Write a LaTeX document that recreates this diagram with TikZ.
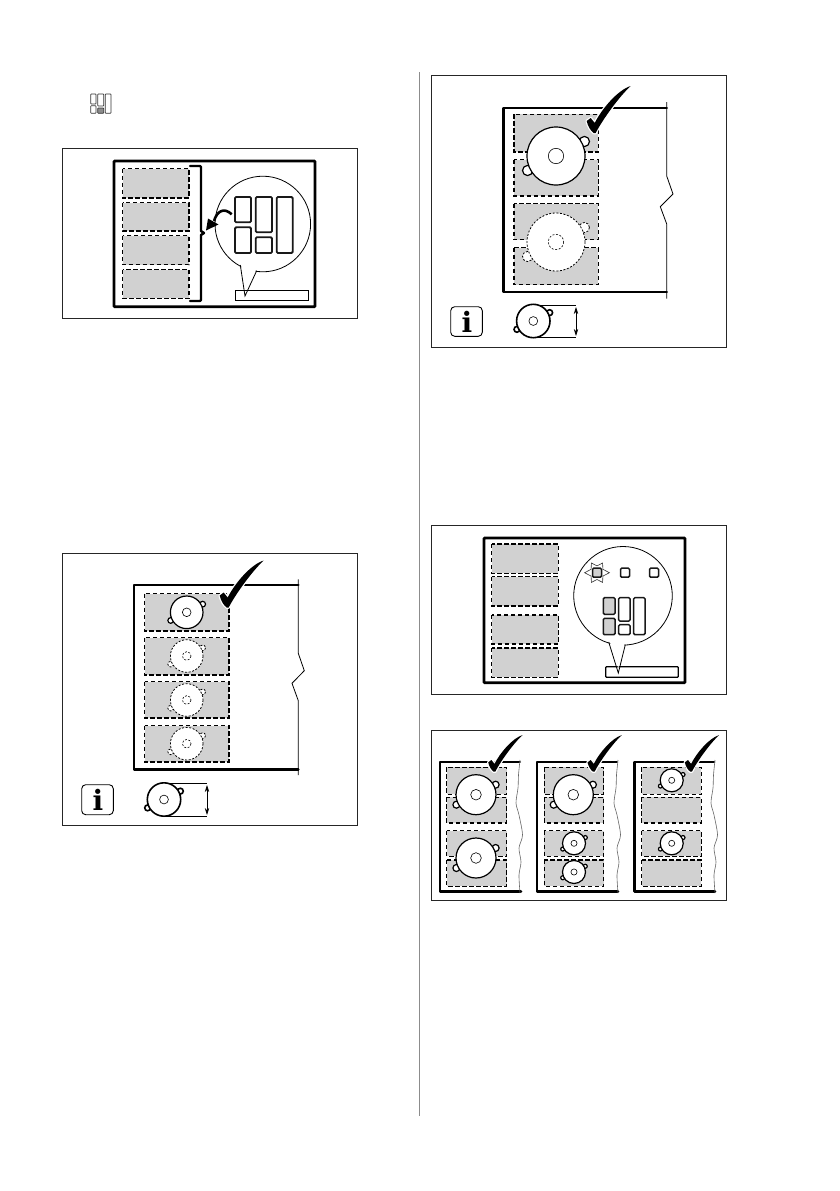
\documentclass[tikz,border=0pt]{standalone}
\usepackage{fontspec}
\setmainfont{Liberation Serif}
\newfontfamily\infofont{DejaVu Serif}
\usetikzlibrary{arrows.meta}
\definecolor{zonegray}{gray}{0.82}
\tikzset{
  panel/.style={draw=black!85,line width=0.8pt},
  hob/.style={draw=black,line width=2.8pt,rounded corners=0.8pt},
  hobline/.style={draw=black,line width=2.8pt,line cap=round,line join=round},
  zonestyle/.style={draw=black,fill=zonegray,line width=1.5pt,dash pattern=on 4.4pt off 2.6pt},
  thinline/.style={draw=black,line width=0.6pt},
  btn/.style={draw=black!90,fill=white,line width=1.8pt,rounded corners=1.2pt},
  gbtn/.style={btn,fill=zonegray},
  potsolid/.style={draw=black,fill=white,line width=1.2pt},
  potdash/.style={draw=black,fill=white,line width=0.8pt,dash pattern=on 2pt off 1.6pt},
  icon/.style={draw=black!80,fill=white,line width=0.7pt,rounded corners=0.6pt},
  infobox/.style={draw=black,line width=0.9pt,rounded corners=4pt},
  infotext/.style={inner sep=0pt,font=\infofont\bfseries\fontsize{28}{28}\selectfont},
  dim/.style={draw=black,line width=0.7pt},
  dimarrow/.style={draw=black,line width=0.7pt,{Stealth[length=7pt,width=4.4pt]}-{Stealth[length=7pt,width=4.4pt]}},
  bubble/.style={draw=black,fill=white,line width=0.8pt,line join=miter}
}
\newcommand\zn[4]{\draw[zonestyle] (#1,#2) rectangle (#3,#4);}
% cx cy r style
\newcommand\potring[4]{%
  \pgfmathsetmacro\rl{0.175*#3}\pgfmathsetmacro\dx{0.98*#3}\pgfmathsetmacro\dy{0.5*#3}%
  \draw[#4] (#1+\dx,#2-\dy) circle[radius=\rl];
  \draw[#4] (#1-\dx,#2+\dy) circle[radius=\rl];
  \draw[#4] (#1,#2) circle[radius=#3];
  \pgfmathsetmacro\ri{0.265*#3}%
  \draw[#4,line width=0.6pt] (#1,#2) circle[radius=\ri];
}
% x y scale
\newcommand\chk[3]{%
  \begin{scope}[shift={(#1,#2)},scale=#3]
  \path[draw=white,line width=2.5pt,fill=white,line join=round] (0,0) .. controls (-3,-2) and (-6,-7) .. (-7,-12) -- (-3,-15) -- (1,-10) .. controls (8,-24) and (24,-43) .. (37,-47) .. controls (25,-36) and (8,-12) .. (2,0) -- cycle;
  \fill[black] (0,0) .. controls (-3,-2) and (-6,-7) .. (-7,-12) -- (-3,-15) -- (1,-10) .. controls (8,-24) and (24,-43) .. (37,-47) .. controls (25,-36) and (8,-12) .. (2,0) -- cycle;
  \end{scope}}
\newcommand\wav[1]{\draw[thinline,black!60] plot[smooth] coordinates {(#1,760) (#1-1.5,775) (#1-2,788) (#1-4,803) (#1-1,815) (#1+2.5,835) (#1-1,848) (#1+1,862) (#1-1,875) (#1,893)};}
\begin{document}
\begin{tikzpicture}[x=1pt,y=-1pt]
\fill[white] (0,0) rectangle (839,1191);
\useasboundingbox (0,0) rectangle (839,1191);
% column divider
\draw[black!45,line width=0.7pt] (419.5,72) -- (419.5,1116);
% top icon
\draw[icon] (90.7,94) rectangle (96,104);
\draw[icon] (90.7,105.7) rectangle (96,113.3);
\draw[icon] (97.7,94) rectangle (103.7,106);
\draw[icon,fill=black!45] (97.7,108) rectangle (103.7,113.3);
\draw[icon] (105.3,94) rectangle (111,113.3);

% ===== panel 1
\draw[panel] (62.7,148.5) rectangle (357.5,318.5);
\draw[hob] (114,161) rectangle (315,306.7);
\zn{122.7}{168.7}{189}{198}
\zn{122.7}{202.7}{189}{231}
\zn{122.7}{235.7}{189}{264.7}
\zn{122.7}{269.7}{189}{298.3}
\draw[hobline,line width=2.4pt] (190,166) -- (200,166) -- (201,167) -- (201,231) -- (204,233) -- (201,235) -- (201,300) -- (200,301) -- (190,301);
\draw[bubble,line width=1.1pt] (235.7,290.7) rectangle (308.3,300.3);
\draw[bubble] (262.8,224) circle[radius=47.8];
\fill[white] (241.2,266) -- (245,290) -- (255.7,271) -- (250,262) -- cycle;
\draw[draw=black,line width=0.8pt] (240.3,265) -- (245,296) -- (256.7,270.7);
\draw[btn] (235,197) rectangle (251,222.3);
\draw[btn] (235,227.3) rectangle (251,253);
\draw[btn] (255.7,197) rectangle (272,232.3);
\draw[btn] (255.7,237.3) rectangle (272,253);
\draw[btn] (276.7,197) rectangle (292.7,253);
\draw[line width=2.6pt] (231.7,214.3) .. controls (224,207) and (217,211) .. (214,221);
\fill (206,230.5) -- (208,218.5) -- (218.5,224.5) -- cycle;

% ===== panel 2
\draw[panel] (62.7,553.5) rectangle (357.5,825);
\draw[hobline] (298.3,585) -- (134,585) -- (134,769.3) -- (298.3,769.3);
\draw[thinline,line width=0.8pt] (298.3,579.3) -- (298.3,653.3) -- (304.3,670.7) -- (292,683.3) -- (298.3,700.7) -- (298.3,775);
\zn{144.7}{593.7}{229}{631}
\zn{144.7}{637.7}{229}{675}
\zn{144.7}{681.7}{229}{718}
\zn{144.7}{725.7}{229}{762}
\potring{186.7}{612.3}{16.3}{potsolid}
\potring{186.7}{656}{16.3}{potdash}
\potring{186.7}{700}{16.3}{potdash}
\potring{186.7}{743.7}{16.3}{potdash}
\chk{226.7}{607.5}{1}
\draw[infobox] (81.7,784.7) rectangle (113.3,814.7);
\node[infotext] (info1) at (98,799.5) {i};
\draw[dim] (164,783) -- (207,783);
\draw[dim] (164,816.3) -- (207,816.3);
\draw[dimarrow] (207,785) -- (207,815);
\potring{164}{799.5}{16.7}{potsolid,line width=1.6pt}

% ===== panel 3
\draw[panel] (431.3,75.7) rectangle (726.3,347.3);
\draw[hobline] (666.7,108) -- (503.3,108) -- (503.3,292) -- (666.7,292);
\draw[thinline,line width=0.8pt] (666.7,102) -- (666.7,176) -- (673,194) -- (660.3,206.7) -- (666.7,224) -- (666.7,298.7);
\zn{514}{114.3}{598.3}{152}
\zn{514}{159.7}{598.3}{196}
\zn{514}{203.7}{598.3}{239.7}
\zn{514}{247.7}{598.3}{284.7}
\potring{556}{156}{29}{potsolid}
\potring{556}{242}{29}{potdash}
\chk{593.7}{133}{1}
\draw[infobox] (450.7,306.7) rectangle (482.3,336.3);
\node[infotext] (info2) at (467,321.5) {i};
\draw[dim] (533.3,305) -- (576,305);
\draw[dim] (533.3,337.7) -- (576,337.7);
\draw[dimarrow] (576,307) -- (576,336);
\potring{533.3}{321}{16.7}{potsolid,line width=1.6pt}

% ===== panel 4
\draw[panel] (431.3,525.7) rectangle (726.3,694.7);
\draw[hob] (484,538) rectangle (685,682.7);
\zn{491.7}{544}{558.3}{573.3}
\zn{491.7}{576.7}{558.3}{606}
\zn{491.7}{615}{558.3}{644}
\zn{491.7}{648}{558.3}{677.3}
\draw[bubble,line width=1.2pt,rounded corners=0.8pt] (605.7,666.7) rectangle (678.3,677.3);
\draw[bubble] (623,595.8) circle[radius=49.3];
\fill[white] (609.6,641) -- (618.3,668) -- (624.4,643.5) -- (618,638) -- cycle;
\draw[draw=black,line width=0.8pt] (608.7,642) -- (618.3,673) -- (625.3,644.7);
\begin{scope}[shift={(597,572.7)}]
\draw[draw=black!80,line width=0.6pt] (0:12.4) -- (30:6.8) -- (60:11.2) -- (90:6.8) -- (120:11.2) -- (150:6.8) -- (180:12.4) -- (210:6.8) -- (240:11.2) -- (270:6.8) -- (300:11.2) -- (330:6.8) -- cycle;
\end{scope}
\draw[gbtn,line width=1.5pt] (592.5,568.2) rectangle (601.5,577.2);
\draw[btn,line width=1.5pt] (620.5,568.2) rectangle (629.5,577.2);
\draw[btn,line width=1.5pt] (649.5,568.2) rectangle (658.5,577.2);
\draw[gbtn,line width=1.5pt] (603.3,597.7) rectangle (615,614.3);
\draw[gbtn,line width=1.5pt] (603.3,618.3) rectangle (615,634.7);
\draw[btn,line width=1.5pt] (618.7,597.7) rectangle (630,621);
\draw[btn,line width=1.5pt] (618.7,624.7) rectangle (630,634.7);
\draw[btn,line width=1.5pt] (633.7,597.7) rectangle (645,634.7);

% ===== panel 5
\draw[panel] (431.3,730) rectangle (726.3,900);
% left hob
\draw[hobline] (519.7,762) -- (440,762) -- (440,891.3) -- (521,891.3);
\wav{520}
\zn{446.7}{767.3}{506.7}{794.3}
\zn{446.7}{797.3}{506.7}{823}
\zn{446.7}{830.7}{506.7}{856.3}
\zn{446.7}{860}{506.7}{886.3}
\potring{476}{794.7}{20}{potsolid}
\potring{476}{858}{20}{potsolid}
\chk{493.7}{771.7}{0.78}
% middle hob
\draw[hobline] (616.7,762) -- (537,762) -- (537,891.3) -- (618,891.3);
\wav{618}
\zn{544.3}{767.3}{603.7}{794.3}
\zn{544.3}{797.3}{603.7}{823}
\zn{544.3}{830.7}{603.7}{856.3}
\zn{544.3}{860}{603.7}{886.3}
\potring{573.3}{794.7}{20}{potsolid}
\potring{574}{843.3}{11.5}{potsolid}
\potring{574}{872}{11.5}{potsolid}
\chk{593}{771.7}{0.78}
% right hob
\draw[hobline] (714,762) -- (634.7,762) -- (634.7,891.3) -- (715,891.3);
\wav{715}
\zn{641.7}{767.3}{701.3}{794.3}
\zn{641.7}{797.3}{701.3}{823}
\zn{641.7}{830.7}{701.3}{856.3}
\zn{641.7}{860}{701.3}{886.3}
\potring{671.7}{780.3}{11.5}{potsolid}
\potring{671.7}{843.3}{11.5}{potsolid}
\chk{690.3}{771.7}{0.78}
\end{tikzpicture}
\end{document}
